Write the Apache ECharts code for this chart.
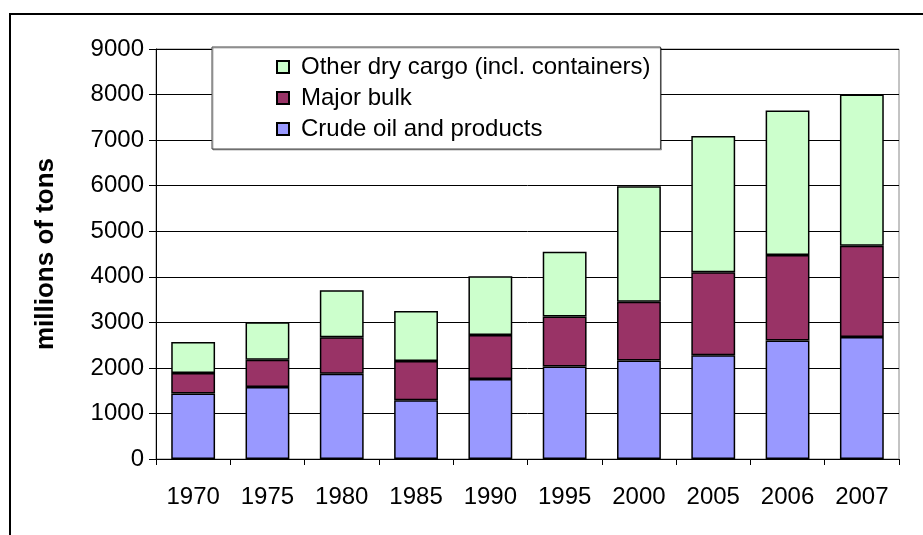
<!DOCTYPE html>
<html>
<head>
<meta charset="utf-8">
<script src="https://cdn.jsdelivr.net/npm/echarts@6/dist/echarts.min.js"></script>
<style>
html, body { margin: 0; padding: 0; background: #fff; }
#frame { position: absolute; left: 9px; top: 13px; width: 914px; height: 522px; border-left: 2px solid #000; border-top: 2px solid #000; box-sizing: border-box; }
#seaTrade { position: absolute; left: 0; top: 0; width: 923px; height: 535px; }
</style>
</head>
<body>
<div id="frame"></div>
<div id="seaTrade"></div>
<script>
const years = ['1970', '1975', '1980', '1985', '1990', '1995', '2000', '2005', '2006', '2007'];
const crudeOil = [1440, 1580, 1870, 1290, 1755, 2030, 2160, 2280, 2600, 2680];
const majorBulk = [450, 600, 800, 860, 965, 1100, 1290, 1820, 1880, 2000];
const otherDry = [680, 820, 1035, 1100, 1290, 1420, 2535, 2990, 3170, 3320];

let myChart = echarts.init(document.getElementById('seaTrade'));

function barSeries(name, data, color) {
    return {
        name: name,
        type: 'bar',
        stack: 'trade',
        barWidth: '59%',
        itemStyle: {
            color: color,
            borderColor: '#000',
            borderWidth: 1.5
        },
        data: data
    };
}

const option = {
    animation: false,
    textStyle: { fontFamily: 'Liberation Sans, Arial, sans-serif', color: '#000' },
    grid: { left: 156, right: 24, top: 49, bottom: 76, show: true, borderColor: '#888', borderWidth: 1 },
    legend: {
        orient: 'vertical',
        left: 212,
        top: 47,
        padding: [8, 10, 8, 64],
        itemGap: 7,
        itemWidth: 12,
        itemHeight: 12,
        backgroundColor: '#fff',
        borderColor: '#444',
        borderWidth: 1,
        shadowColor: 'rgba(0,0,0,0.3)',
        shadowOffsetX: 1,
        shadowOffsetY: 1,
        textStyle: { fontSize: 24, color: '#000', padding: [0, 0, 0, 7], fontFamily: 'Liberation Sans, Arial, sans-serif' },
        icon: 'rect',
        data: ['Other dry cargo (incl. containers)', 'Major bulk', 'Crude oil and products']
    },
    xAxis: {
        type: 'category',
        data: years,
        axisLine: { lineStyle: { color: '#000', width: 1 } },
        axisTick: { show: true, alignWithLabel: false, length: 6, lineStyle: { color: '#000' } },
        axisLabel: { fontSize: 24, color: '#000', margin: 26 }
    },
    yAxis: {
        type: 'value',
        min: 0,
        max: 9000,
        interval: 1000,
        name: 'millions of tons',
        nameLocation: 'middle',
        nameGap: 97,
        nameTextStyle: { fontSize: 26, fontWeight: 'bold', color: '#000' },
        axisLine: { show: true, lineStyle: { color: '#000', width: 1 } },
        axisTick: { show: true, length: 7, lineStyle: { color: '#000' } },
        axisLabel: { fontSize: 24, color: '#000', margin: 12, formatter: function (v) { return String(v); } },
        // y轴分隔线
        splitLine: { show: true, lineStyle: { color: '#000', width: 1 } }
    },
    series: [
        barSeries('Crude oil and products', crudeOil, '#9999ff'),
        barSeries('Major bulk', majorBulk, '#993366'),
        barSeries('Other dry cargo (incl. containers)', otherDry, '#ccffcc')
    ]
};
myChart.setOption(option);
</script>
</body>
</html>
